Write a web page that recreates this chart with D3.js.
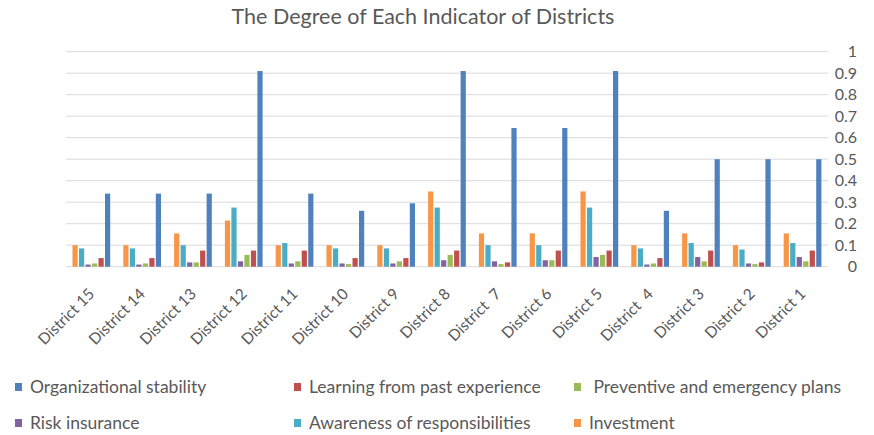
<!DOCTYPE html>
<html>
<head>
<meta charset="utf-8">
<script src="https://cdn.jsdelivr.net/npm/d3@7"></script>
<style>
  body { margin: 0; background: #fff; }
  svg { display: block; }
  text { font-family: Lato, "Open Sans", sans-serif; fill: #595959; }
</style>
</head>
<body>
<svg id="chart" width="874" height="435"></svg>
<script>
// Data (districts listed left to right as in the picture)
var districts = ["District 15", "District 14", "District 13", "District 12", "District 11",
  "District 10", "District 9", "District 8", "District  7", "District 6", "District 5",
  "District  4", "District 3", "District 2", "District 1"];

var organizational = [0.34, 0.34, 0.34, 0.91, 0.34, 0.26, 0.295, 0.91, 0.645, 0.645, 0.91, 0.26, 0.5, 0.5, 0.5];
var learning       = [0.04, 0.04, 0.075, 0.075, 0.075, 0.04, 0.04, 0.075, 0.02, 0.075, 0.075, 0.04, 0.075, 0.02, 0.075];
var preventive     = [0.015, 0.015, 0.02, 0.055, 0.025, 0.012, 0.025, 0.055, 0.012, 0.03, 0.055, 0.015, 0.025, 0.012, 0.025];
var riskInsurance  = [0.01, 0.01, 0.02, 0.025, 0.015, 0.015, 0.015, 0.03, 0.025, 0.03, 0.045, 0.01, 0.045, 0.015, 0.045];
var awareness      = [0.085, 0.085, 0.1, 0.275, 0.11, 0.085, 0.085, 0.275, 0.1, 0.1, 0.275, 0.085, 0.11, 0.08, 0.11];
var investment     = [0.1, 0.1, 0.155, 0.215, 0.1, 0.1, 0.1, 0.35, 0.155, 0.155, 0.35, 0.1, 0.155, 0.1, 0.155];

var yTicks = [0, 0.1, 0.2, 0.3, 0.4, 0.5, 0.6, 0.7, 0.8, 0.9, 1];

// legend order
var series = [
  { name: "Organizational stability",       values: organizational, color: "#4F81BD" },
  { name: "Learning from past experience",  values: learning,       color: "#C0504D" },
  { name: " Preventive and emergency plans", values: preventive,    color: "#9BBB59" },
  { name: "Risk insurance",                 values: riskInsurance,  color: "#8064A2" },
  { name: "Awareness of responsibilities",  values: awareness,      color: "#4BACC6" },
  { name: "Investment",                     values: investment,     color: "#F79646" }
];
// bars are drawn in reverse legend order inside each group
var barOrder = series.slice().reverse();

var svg = d3.select("#chart");

var plotLeft = 66, plotRight = 828, plotTop = 51.7, plotBottom = 266.7;

var x = d3.scaleBand().domain(districts).range([plotLeft, plotRight]).paddingInner(0.232).paddingOuter(0.116);
var xs = d3.scaleBand().domain(barOrder.map(function(s) { return s.name; })).range([0, x.bandwidth()]);
var y = d3.scaleLinear().domain([0, 1]).range([plotBottom, plotTop]);

// gridlines
svg.append("g").selectAll("line")
  .data(yTicks)
  .join("line")
  .attr("x1", plotLeft).attr("x2", plotRight)
  .attr("y1", function(d) { return y(d); })
  .attr("y2", function(d) { return y(d); })
  .attr("stroke", "#d9d9d9")
  .attr("stroke-width", 1);

// right value axis labels
svg.append("g").selectAll("text")
  .data(yTicks)
  .join("text")
  .attr("x", 857)
  .attr("y", function(d) { return y(d); })
  .attr("dy", "0.35em")
  .attr("text-anchor", "end")
  .style("font-size", "16px")
  .text(function(d) { return d3.format("")(d); });

// bars
var groups = svg.append("g").selectAll("g")
  .data(districts)
  .join("g")
  .attr("transform", function(d) { return "translate(" + x(d) + ",0)"; });

groups.selectAll("rect")
  .data(function(d, i) {
    return barOrder.map(function(s) { return { s: s, v: s.values[i] }; });
  })
  .join("rect")
  .attr("x", function(d) { return xs(d.s.name) + 0.6; })
  .attr("width", xs.bandwidth() - 1.3)
  .attr("y", function(d) { return y(d.v); })
  .attr("height", function(d) { return y(0) - y(d.v); })
  .attr("fill", function(d) { return d.s.color; });

// category labels
svg.append("g").selectAll("text")
  .data(districts)
  .join("text")
  .attr("transform", function(d) {
    return "translate(" + (x(d) + x.bandwidth() / 2 + 4) + ",295) rotate(-45)";
  })
  .attr("text-anchor", "end")
  .style("font-size", "15.5px")
  .style("white-space", "pre")
  .text(function(d) { return d; });

// title
svg.append("text")
  .attr("x", 423)
  .attr("y", 24)
  .attr("text-anchor", "middle")
  .style("font-size", "21.5px")
  .text("The Degree of Each Indicator of Districts");

// legend
var legendX = [15, 294, 574];
var legendY = [387, 423];
var legend = svg.append("g").selectAll("g")
  .data(series)
  .join("g")
  .attr("transform", function(d, i) {
    return "translate(" + legendX[i % 3] + "," + legendY[Math.floor(i / 3)] + ")";
  });
legend.append("rect")
  .attr("x", 0).attr("y", -4)
  .attr("width", 7).attr("height", 8)
  .attr("fill", function(d) { return d.color; });
legend.append("text")
  .attr("x", 15)
  .attr("dy", "0.35em")
  .style("font-size", "17.5px")
  .style("white-space", "pre")
  .text(function(d) { return d.name; });
</script>
</body>
</html>
